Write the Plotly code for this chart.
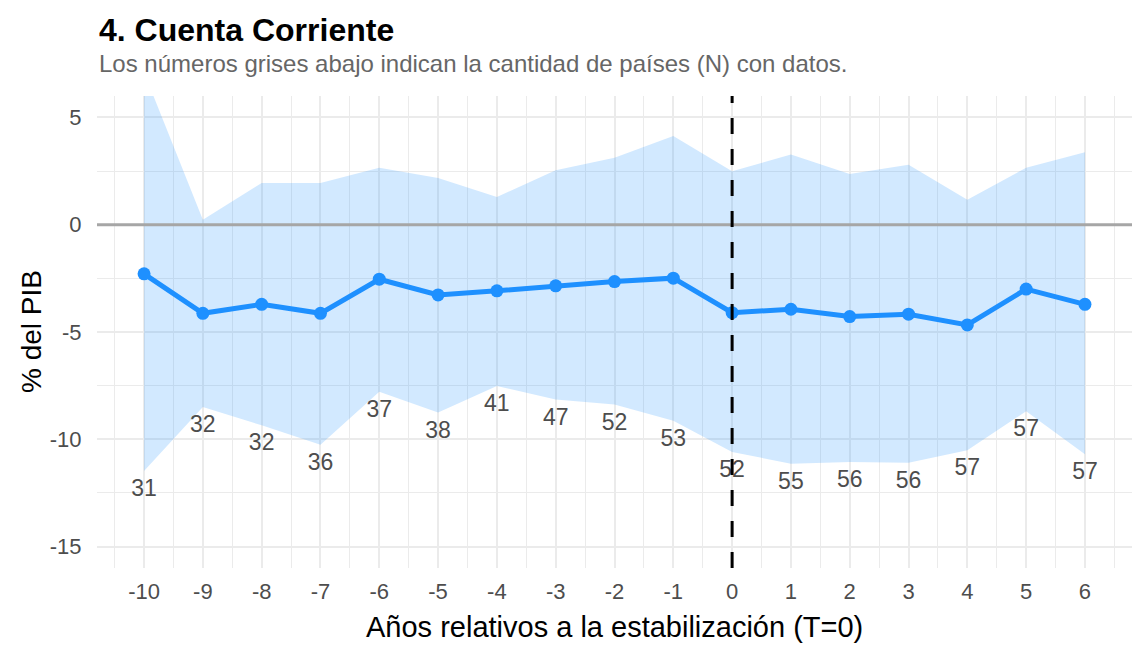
import plotly.graph_objects as go

# ---- data ----
years = list(range(-10, 7))
mean_vals = [-2.29, -4.13, -3.71, -4.13, -2.54, -3.27, -3.08, -2.85, -2.65, -2.49,
             -4.10, -3.94, -4.28, -4.17, -4.67, -3.00, -3.71]
upper_vals = [7.1, 0.23, 1.95, 1.95, 2.65, 2.18, 1.29, 2.54, 3.12, 4.13,
              2.49, 3.27, 2.37, 2.80, 1.17, 2.65, 3.38]
lower_vals = [-11.48, -8.49, -9.35, -10.25, -7.79, -8.75, -7.52, -8.15, -8.38, -9.14,
              -10.59, -11.14, -11.06, -11.09, -10.51, -8.69, -10.70]
n_countries = [31, 32, 32, 36, 37, 38, 41, 47, 52, 53, 52, 55, 56, 56, 57, 57, 57]
x_ticks = list(range(-10, 7))
y_ticks = [-15, -10, -5, 0, 5]

title_text = "4. Cuenta Corriente"
subtitle_text = "Los números grises abajo indican la cantidad de países (N) con datos."
x_title = "Años relativos a la estabilización (T=0)"
y_title = "% del PIB"

FONT = "Liberation Sans, Arial, sans-serif"
BLUE = "#1E90FF"
label_offset = 0.9

fig = go.Figure()

# ribbon
fig.add_trace(go.Scatter(x=years, y=lower_vals, mode="lines",
                         line=dict(width=0, color="rgba(0,0,0,0)"),
                         showlegend=False, hoverinfo="skip"))
fig.add_trace(go.Scatter(x=years, y=upper_vals, mode="lines",
                         line=dict(width=0, color="rgba(0,0,0,0)"),
                         fill="tonexty", fillcolor="rgba(30,144,255,0.2)",
                         showlegend=False, hoverinfo="skip"))

# mean line
fig.add_trace(go.Scatter(x=years, y=mean_vals, mode="lines+markers",
                         line=dict(color=BLUE, width=5),
                         marker=dict(color=BLUE, size=13),
                         showlegend=False))

# N labels
fig.add_trace(go.Scatter(x=years, y=[v - label_offset for v in lower_vals],
                         mode="text", text=[str(n) for n in n_countries],
                         textposition="middle center",
                         textfont=dict(family=FONT, size=23, color="#4D4D4D"),
                         showlegend=False, hoverinfo="skip"))

# zero line and T=0 dashed line
fig.add_shape(type="line", xref="paper", x0=0, x1=1, yref="y", y0=0, y1=0,
              line=dict(color="#A6A6A6", width=3), layer="above")
fig.add_shape(type="line", xref="x", x0=0, x1=0, yref="paper", y0=0, y1=1,
              line=dict(color="black", width=3, dash="16px,15px"), layer="above")

grid_major = "#EBEBEB"
fig.update_xaxes(range=[-10.8, 6.8], tickmode="array", tickvals=x_ticks,
                 ticktext=[str(t) for t in x_ticks],
                 showgrid=True, gridcolor=grid_major, gridwidth=2,
                 minor=dict(dtick=0.5, tick0=0.5, showgrid=True, gridcolor=grid_major, gridwidth=1),
                 zeroline=False, showline=False,
                 ticks="outside", ticklen=4, tickcolor="rgba(0,0,0,0)",
                 tickfont=dict(family=FONT, size=22, color="#4D4D4D"))
fig.update_yaxes(range=[-16, 6], tickmode="array", tickvals=y_ticks,
                 ticktext=[str(t) for t in y_ticks],
                 showgrid=True, gridcolor=grid_major, gridwidth=2,
                 minor=dict(dtick=2.5, tick0=2.5, showgrid=True, gridcolor=grid_major, gridwidth=1),
                 zeroline=False, showline=False,
                 ticks="outside", ticklen=10, tickcolor="rgba(0,0,0,0)",
                 tickfont=dict(family=FONT, size=22, color="#4D4D4D"))

fig.update_layout(
    width=1148, height=654,
    margin=dict(l=97, r=16, t=96, b=86),
    paper_bgcolor="white", plot_bgcolor="white",
    font=dict(family=FONT),
    showlegend=False,
    annotations=[
        dict(text="<b>" + title_text + "</b>", xref="paper", yref="paper",
             x=0, y=(568 - 30) / 472, xanchor="left", yanchor="middle",
             showarrow=False, font=dict(family=FONT, size=32, color="black")),
        dict(text=subtitle_text, xref="paper", yref="paper",
             x=0, y=(568 - 63) / 472, xanchor="left", yanchor="middle",
             showarrow=False, font=dict(family=FONT, size=24, color="#666666")),
        dict(text=x_title, xref="paper", yref="paper",
             x=0.5, y=(568 - 627) / 472, xanchor="center", yanchor="middle",
             showarrow=False, font=dict(family=FONT, size=29, color="black")),
        dict(text=y_title, xref="paper", yref="paper", textangle=-90,
             x=(31 - 97) / 1035, y=0.5, xanchor="center", yanchor="middle",
             showarrow=False, font=dict(family=FONT, size=28, color="black")),
    ],
)

fig.write_html("out.html")
